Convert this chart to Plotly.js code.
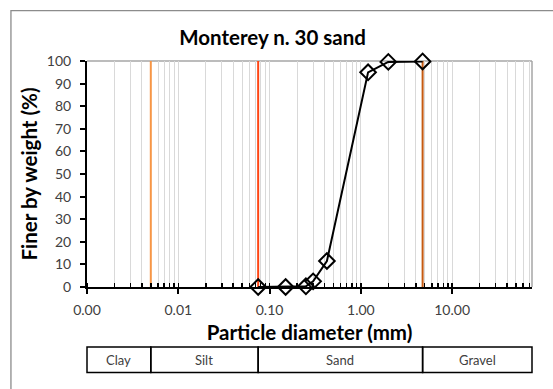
<!DOCTYPE html>
<html>
<head>
<meta charset="utf-8">
<script src="https://cdn.plot.ly/plotly-3.0.1.min.js"></script>
<style>html,body{margin:0;padding:0;background:#fff;}#chart{width:553px;height:389px;}</style>
</head>
<body>
<div id="chart"></div>
<script>
// Data
var diameterMm = [0.075, 0.15, 0.25, 0.3, 0.425, 1.2, 2.0, 4.75];
var finerPct   = [0, 0, 0.3, 2.5, 11.5, 95, 99.6, 99.8];

// Soil class boundaries (mm) and names
var classNames = ['Clay', 'Silt', 'Sand', 'Gravel'];
var classEdges = [0.001, 0.005, 0.075, 4.75, 75];
var boundaryColors = ['#F79646', '#FF4513', '#C55A11'];

var xTickVals = [0.001, 0.01, 0.1, 1, 10];
var xTickText = ['0.00', '0.01', '0.10', '1.00', '10.00'];

var xMin = classEdges[0], xMax = classEdges[classEdges.length - 1];
var xRange = [Math.log10(xMin), Math.log10(xMax)];
function xFrac(v) { return (Math.log10(v) - xRange[0]) / (xRange[1] - xRange[0]); }

// minor log ticks 1..9 x decade within range
var minorVals = [];
for (var e = -3; e <= 1; e++) {
  for (var m = 1; m <= 9; m++) {
    var v = m * Math.pow(10, e);
    if (v >= xMin && v <= xMax) minorVals.push(v);
  }
}

var FONT = 'Lato, "Open Sans", sans-serif';

var traces = [{
  x: diameterMm, y: finerPct, type: 'scatter', mode: 'lines+markers',
  line: {color: '#000', width: 2},
  marker: {symbol: 'diamond-open', size: 12, color: '#000', line: {color: '#000', width: 2}},
  cliponaxis: false, showlegend: false, hoverinfo: 'skip'
}];

var shapes = [];
// outer chart border
shapes.push({type: 'rect', xref: 'paper', yref: 'paper', x0: -0.1709, x1: 1.5, y0: -1, y1: 1.2233,
  line: {color: '#8C8C8C', width: 1.3}, fillcolor: 'rgba(0,0,0,0)', layer: 'below'});
// plot-area top and right borders
shapes.push({type: 'line', xref: 'paper', yref: 'paper', x0: 0, x1: 1, y0: 1, y1: 1, line: {color: '#A6A6A6', width: 1.5}, layer: 'between'});
shapes.push({type: 'line', xref: 'paper', yref: 'paper', x0: 1, x1: 1, y0: 0, y1: 1, line: {color: '#A6A6A6', width: 1.5}, layer: 'between'});
// class boundary lines
for (var i = 1; i < classEdges.length - 1; i++) {
  shapes.push({type: 'line', xref: 'x', yref: 'y', x0: classEdges[i], x1: classEdges[i], y0: 0, y1: 100,
    line: {color: boundaryColors[i - 1], width: 2}, layer: 'between'});
}
// class table below the axis
var annotations = [];
var tY0 = -0.378, tY1 = -0.265;
for (var k = 0; k < classNames.length; k++) {
  var f0 = xFrac(classEdges[k]), f1 = xFrac(classEdges[k + 1]);
  shapes.push({type: 'rect', xref: 'paper', yref: 'paper', x0: f0, x1: f1, y0: tY0, y1: tY1,
    line: {color: '#000', width: 1.5}, fillcolor: 'rgba(0,0,0,0)'});
  annotations.push({xref: 'paper', yref: 'paper', x: (f0 + f1) / 2, xanchor: 'center',
    y: (tY0 + tY1) / 2, yanchor: 'middle', text: classNames[k], showarrow: false,
    font: {family: FONT, size: 13, color: '#404040'}});
}

var layout = {
  width: 553, height: 389,
  margin: {l: 87, r: 21.3, t: 60.5, b: 102.3},
  paper_bgcolor: '#fff', plot_bgcolor: '#fff',
  title: {text: 'Monterey n. 30 sand', font: {family: FONT, size: 20.5, color: '#000', weight: 'bold'}, x: 0.417, xref: 'paper', xanchor: 'center', y: 0.902, yanchor: 'middle'},
  xaxis: {
    type: 'log', range: xRange, tickmode: 'array', tickvals: xTickVals, ticktext: xTickText,
    ticks: 'outside', ticklen: 5, tickwidth: 2, tickcolor: '#000', ticklabelstandoff: 4,
    showline: true, linecolor: '#000', linewidth: 2,
    showgrid: false, zeroline: false,
    minor: {tickmode: 'array', tickvals: minorVals, ticks: 'inside', ticklen: 4, tickwidth: 1.5, tickcolor: '#000', showgrid: true, gridcolor: '#D9D9D9', gridwidth: 1},
    tickfont: {family: FONT, size: 14, color: '#404040'},
    title: {text: 'Particle diameter (mm)', font: {family: FONT, size: 20.5, color: '#000', weight: 'bold'}, standoff: 9}
  },
  xaxis2: {
    type: 'log', range: xRange, overlaying: 'x', anchor: 'y', side: 'bottom',
    tickmode: 'array', tickvals: xTickVals, ticks: 'inside', ticklen: 5, tickwidth: 2, tickcolor: '#000',
    showticklabels: false, showgrid: false, zeroline: false, showline: false
  },
  yaxis: {
    range: [0, 100], dtick: 10, ticks: 'outside', ticklen: 5, tickwidth: 2, tickcolor: '#000', ticklabelstandoff: 6,
    showline: true, linecolor: '#000', linewidth: 2, showgrid: false, zeroline: false,
    tickfont: {family: FONT, size: 14, color: '#404040'},
    title: {text: 'Finer by weight (%)', font: {family: FONT, size: 20.5, color: '#000', weight: 'bold'}, standoff: 4}
  },
  yaxis2: {
    range: [0, 100], dtick: 5, overlaying: 'y', anchor: 'x', side: 'left',
    ticks: 'inside', ticklen: 4, tickwidth: 2, tickcolor: '#000',
    showticklabels: false, showgrid: false, zeroline: false, showline: false
  },
  shapes: shapes,
  annotations: annotations,
  showlegend: false
};

Plotly.newPlot('chart', traces, layout, {staticPlot: true, displayModeBar: false});
</script>
</body>
</html>
